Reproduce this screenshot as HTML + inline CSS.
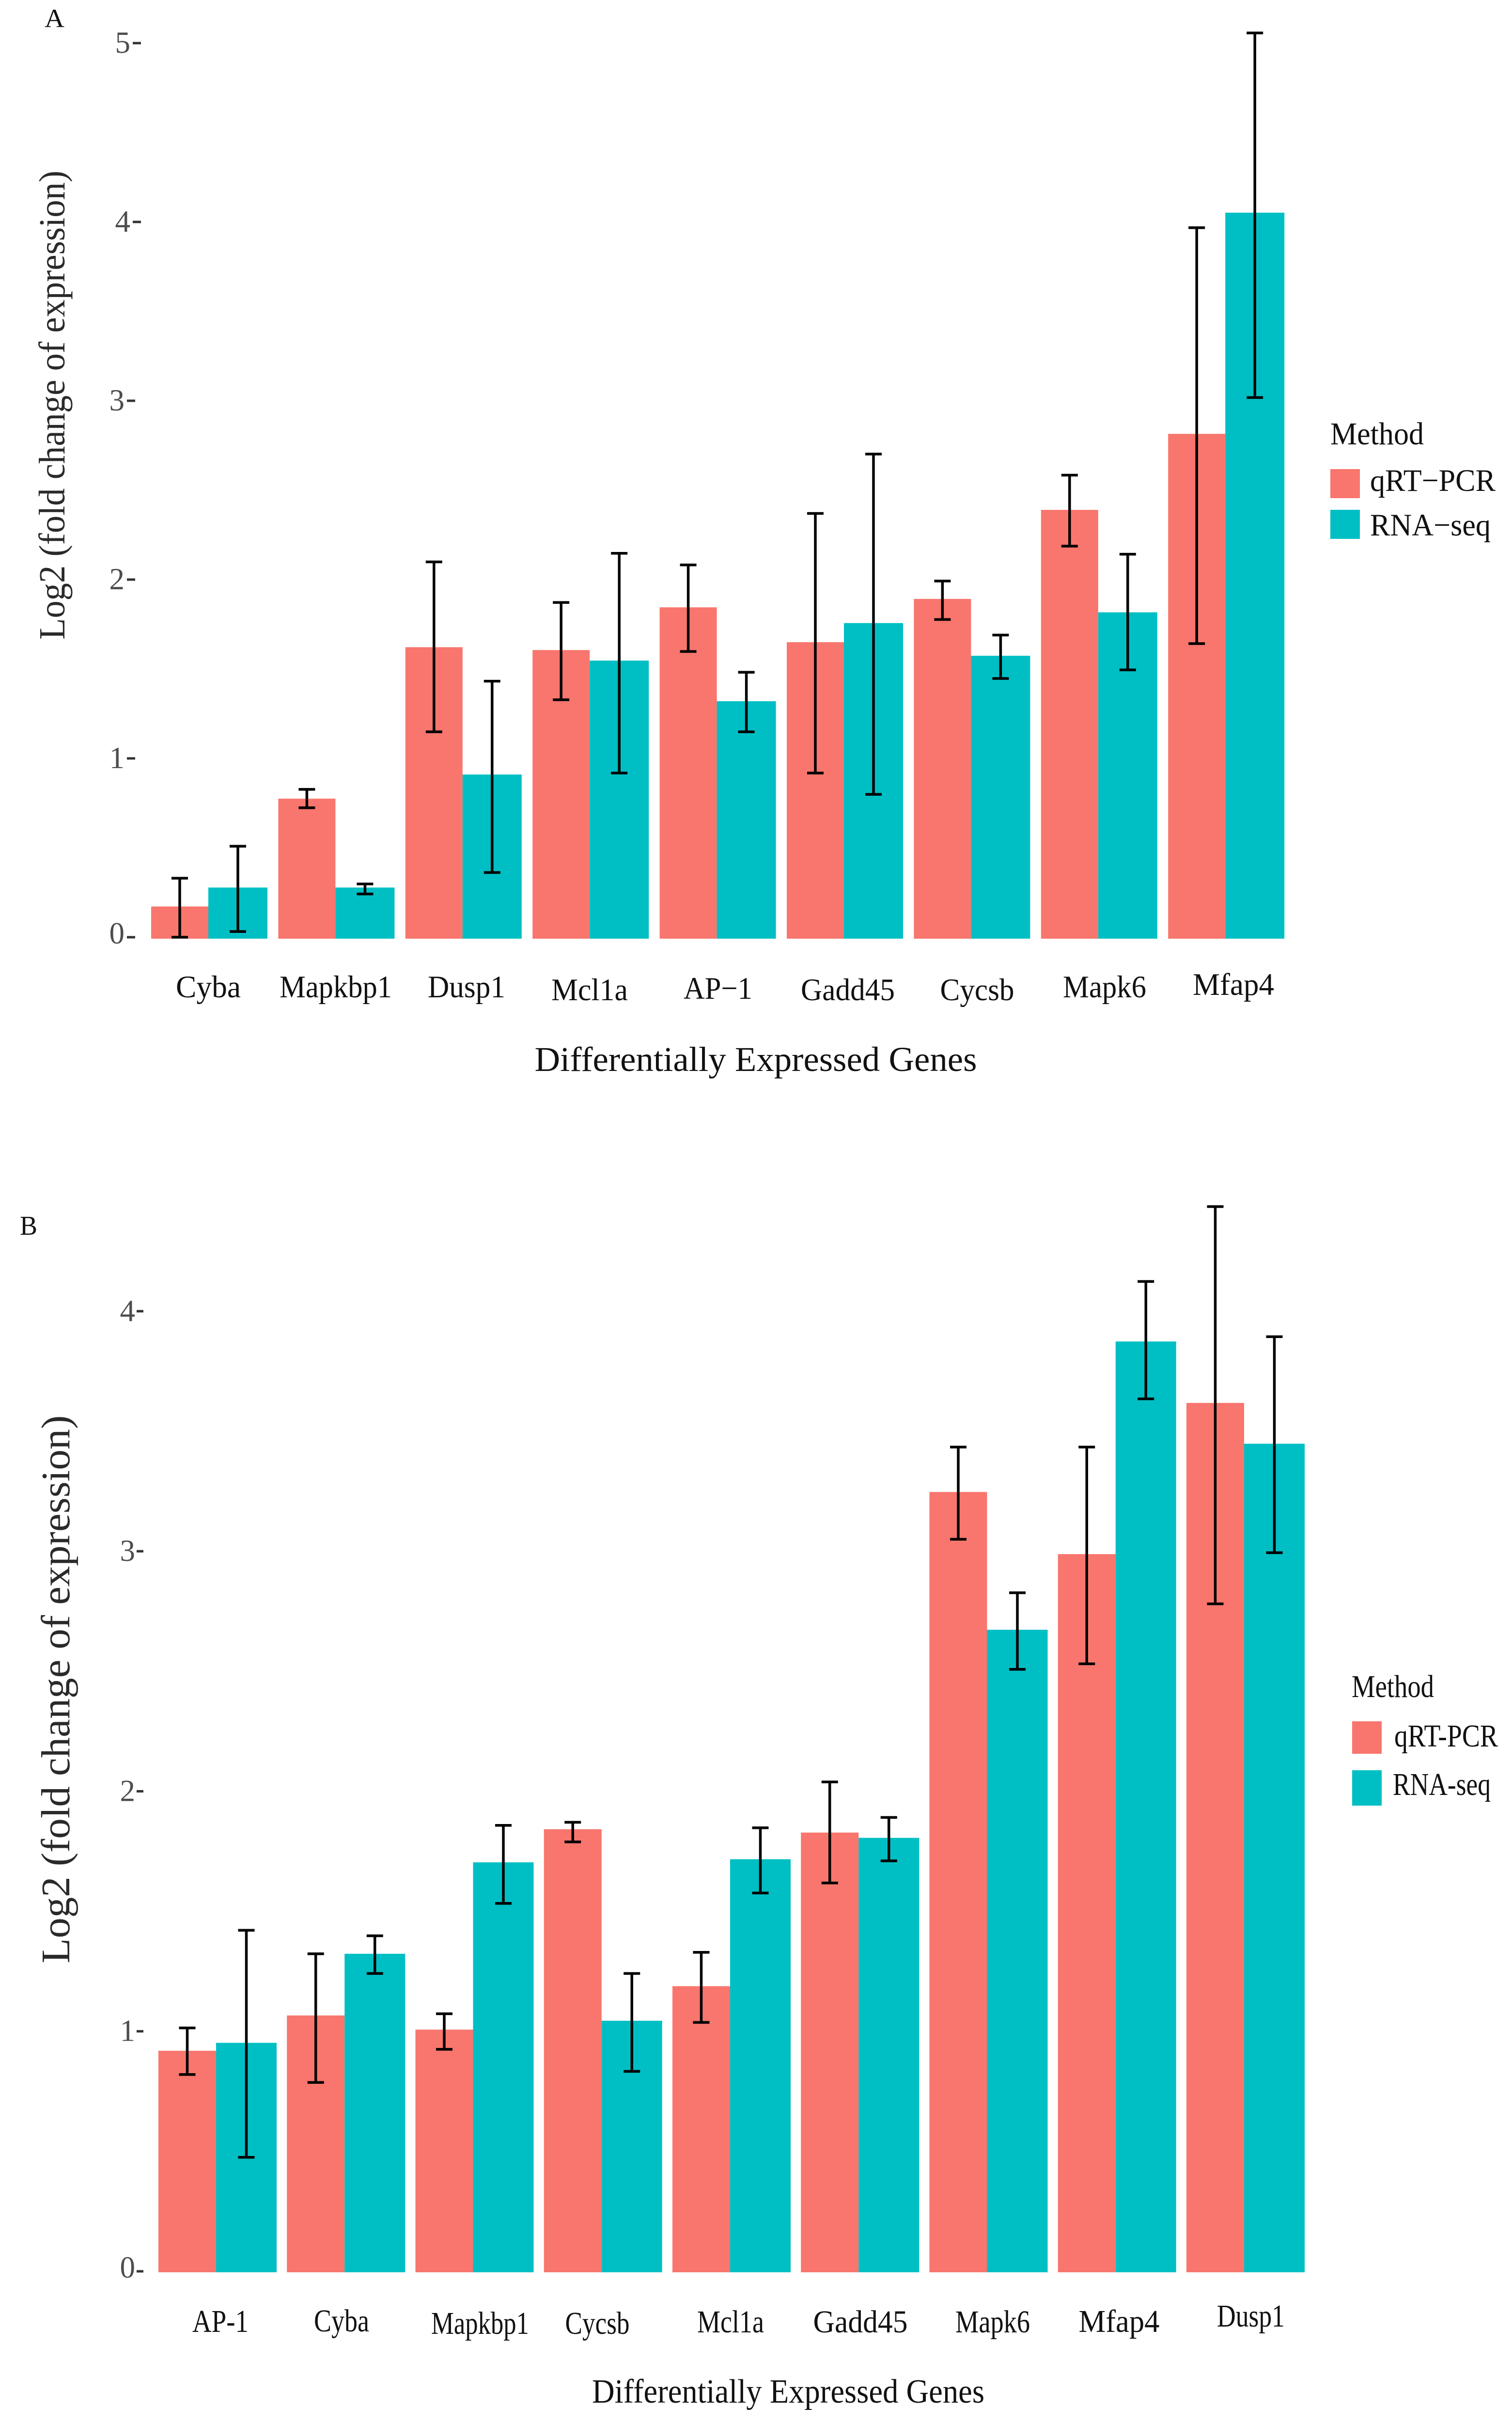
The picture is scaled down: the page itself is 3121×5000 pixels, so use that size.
<!DOCTYPE html>
<html lang="en">
<head>
<meta charset="utf-8">
<title>Differentially Expressed Genes: qRT-PCR vs RNA-seq</title>
<style>
html,body{margin:0;padding:0;background:#fff;}
svg{display:block;}
text{font-family:"Liberation Serif",serif;}
</style>
</head>
<body>
<svg id="figure" xmlns="http://www.w3.org/2000/svg" width="3121" height="5000" viewBox="0 0 3121 5000">
  <rect width="3121" height="5000" fill="#ffffff"/>

  <g id="panel-a">
    <text x="92" y="56" font-size="54" fill="#111" textLength="41" lengthAdjust="spacingAndGlyphs">A</text>
    <text transform="translate(133,836) rotate(-90)" text-anchor="middle" font-size="76" fill="#2a2a2a" textLength="968" lengthAdjust="spacingAndGlyphs">Log2 (fold change of expression)</text>
    <text x="1560" y="2210" text-anchor="middle" font-size="72" fill="#111" textLength="913" lengthAdjust="spacingAndGlyphs">Differentially Expressed Genes</text>

    <g font-size="65" fill="#111" text-anchor="middle" lengthAdjust="spacingAndGlyphs">
      <text x="430" y="2058" textLength="134" lengthAdjust="spacingAndGlyphs">Cyba</text>
      <text x="693" y="2058" textLength="232" lengthAdjust="spacingAndGlyphs">Mapkbp1</text>
      <text x="963" y="2058" textLength="160" lengthAdjust="spacingAndGlyphs">Dusp1</text>
      <text x="1217" y="2064" textLength="158" lengthAdjust="spacingAndGlyphs">Mcl1a</text>
      <text x="1482" y="2061" textLength="142" lengthAdjust="spacingAndGlyphs">AP−1</text>
      <text x="1750" y="2064" textLength="194" lengthAdjust="spacingAndGlyphs">Gadd45</text>
      <text x="2017" y="2064" textLength="153" lengthAdjust="spacingAndGlyphs">Cycsb</text>
      <text x="2280" y="2058" textLength="172" lengthAdjust="spacingAndGlyphs">Mapk6</text>
      <text x="2546" y="2053" textLength="168" lengthAdjust="spacingAndGlyphs">Mfap4</text>
    </g>

    <g>
      <text x="2746" y="917" font-size="66" fill="#111" textLength="193" lengthAdjust="spacingAndGlyphs">Method</text>
      <rect x="2746" y="968" width="61" height="60" fill="#F8766D"/>
      <text x="2828" y="1013" font-size="65" fill="#111" textLength="259" lengthAdjust="spacingAndGlyphs">qRT−PCR</text>
      <rect x="2746" y="1052" width="61" height="60" fill="#00BFC4"/>
      <text x="2828" y="1105" font-size="65" fill="#111" textLength="249" lengthAdjust="spacingAndGlyphs">RNA−seq</text>
    </g>
  </g>

  <g id="panel-b">
    <text x="41" y="2548" font-size="56" fill="#111" textLength="36" lengthAdjust="spacingAndGlyphs">B</text>
    <text transform="translate(143,3486) rotate(-90)" text-anchor="middle" font-size="84" fill="#2a2a2a" textLength="1131" lengthAdjust="spacingAndGlyphs">Log2 (fold change of expression)</text>
    <text x="1627" y="4958" text-anchor="middle" font-size="70" fill="#111" textLength="810" lengthAdjust="spacingAndGlyphs">Differentially Expressed Genes</text>

    <g font-size="66" fill="#111" text-anchor="middle">
      <text x="455" y="4812" textLength="116" lengthAdjust="spacingAndGlyphs">AP-1</text>
      <text x="705" y="4811" textLength="114" lengthAdjust="spacingAndGlyphs">Cyba</text>
      <text x="991" y="4816" textLength="202" lengthAdjust="spacingAndGlyphs">Mapkbp1</text>
      <text x="1233" y="4816" textLength="133" lengthAdjust="spacingAndGlyphs">Cycsb</text>
      <text x="1508" y="4813" textLength="138" lengthAdjust="spacingAndGlyphs">Mcl1a</text>
      <text x="1776" y="4813" textLength="195" lengthAdjust="spacingAndGlyphs">Gadd45</text>
      <text x="2049" y="4813" textLength="154" lengthAdjust="spacingAndGlyphs">Mapk6</text>
      <text x="2310" y="4812" textLength="167" lengthAdjust="spacingAndGlyphs">Mfap4</text>
      <text x="2582" y="4801" textLength="140" lengthAdjust="spacingAndGlyphs">Dusp1</text>
    </g>

    <g>
      <text x="2790" y="3502" font-size="66" fill="#111" textLength="170" lengthAdjust="spacingAndGlyphs">Method</text>
      <rect x="2791" y="3552" width="61" height="67" fill="#F8766D"/>
      <text x="2878" y="3604" font-size="66" fill="#111" textLength="214" lengthAdjust="spacingAndGlyphs">qRT-PCR</text>
      <rect x="2791" y="3653" width="61" height="73" fill="#00BFC4"/>
      <text x="2875" y="3704" font-size="66" fill="#111" textLength="202" lengthAdjust="spacingAndGlyphs">RNA-seq</text>
    </g>
  </g>
</svg>

<script>
// Panel A data
const categoriesA = ["Cyba","Mapkbp1","Dusp1","Mcl1a","AP-1","Gadd45","Cycsb","Mapk6","Mfap4"];
const qpcrA     = [0.18,0.783,1.63,1.614,1.853,1.658,1.90,2.398,2.823];
const qpcrLowA  = [0.008,0.732,1.157,1.336,1.606,0.926,1.785,2.195,1.65];
const qpcrHighA = [0.338,0.835,2.107,1.88,2.09,2.378,2.0,2.592,3.976];
const rnaA      = [0.286,0.286,0.918,1.555,1.328,1.765,1.582,1.825,4.06];
const rnaLowA   = [0.04,0.25,0.37,0.926,1.157,0.807,1.455,1.503,3.026];
const rnaHighA  = [0.517,0.306,1.44,2.155,1.49,2.71,1.698,2.15,5.065];
const tickValuesA = [0,1,2,3,4,5];
const tickLabelsA = ["0","1","2","3","4","5"];

// Panel B data
const categoriesB = ["AP-1","Cyba","Mapkbp1","Cycsb","Mcl1a","Gadd45","Mapk6","Mfap4","Dusp1"];
const qpcrB     = [0.923,1.07,1.011,1.846,1.192,1.832,3.251,2.992,3.622];
const qpcrLowB  = [0.824,0.791,0.929,1.793,1.041,1.622,3.054,2.535,2.785];
const qpcrHighB = [1.018,1.327,1.077,1.875,1.333,2.043,3.438,3.438,4.44];
const rnaB      = [0.956,1.327,1.708,1.048,1.721,1.81,2.677,3.878,3.452];
const rnaLowB   = [0.479,1.245,1.537,0.837,1.58,1.714,2.512,3.639,2.998];
const rnaHighB  = [1.425,1.402,1.862,1.245,1.852,1.895,2.831,4.128,3.898];
const tickValuesB = [0,1,2,3,4];
const tickLabelsB = ["0","1","2","3","4"];

const NS = "http://www.w3.org/2000/svg";
const RED = "#F8766D";
const TEAL = "#00BFC4";

function make(tag, attrs, parent) {
  const node = document.createElementNS(NS, tag);
  for (const k in attrs) node.setAttribute(k, attrs[k]);
  parent.appendChild(node);
  return node;
}

function drawErrorBar(parent, x, yLow, yHigh, capHalf, name) {
  const g = make("g", {stroke:"#000", "stroke-width":5.5, fill:"none"}, parent);
  
  
  make("line", {x1:x, x2:x, y1:yHigh, y2:yLow}, g);
  make("line", {x1:x-capHalf, x2:x+capHalf, y1:yHigh, y2:yHigh}, g);
  make("line", {x1:x-capHalf, x2:x+capHalf, y1:yLow, y2:yLow}, g);
}

function drawPanel(p) {
  const root = document.getElementById(p.id);
  const marks = make("g", {}, root);
  
  

  p.tickValues.forEach(function (v, i) {
    const y = p.yScale(v) - p.tickShift;
    const right = p.tickRight(v);
    const tick = make("line", {x1:right-p.tickLength, x2:right, y1:y, y2:y, stroke:"#333", "stroke-width":5}, root);
    
    
    const dy = v === 0 ? 13 : 20;
    const label = make("text", {x:right-p.tickGap, y:y+dy, "text-anchor":"end", "font-size":p.tickFont, fill:"#4d4d4d"}, root);
    
    
    label.textContent = p.tickLabels[i];
  });

  p.categories.forEach(function (cat, i) {
    const c = p.xScale(i);
    const y0 = p.yScale(0);
    const r = make("rect", {x:c-p.redWidth, width:p.redWidth, y:p.yScale(p.qpcr[i]), height:y0-p.yScale(p.qpcr[i]), fill:RED}, marks);
    
    
    const t = make("rect", {x:c, width:p.tealWidth, y:p.yScale(p.rna[i]), height:y0-p.yScale(p.rna[i]), fill:TEAL}, marks);
    
    
  });

  p.categories.forEach(function (cat, i) {
    const c = p.xScale(i);
    drawErrorBar(marks, c-p.redWidth/2, p.yScale(p.qpcrLow[i]), p.yScale(p.qpcrHigh[i]), 17, 'error-bar-qrt-pcr-' + cat);
    drawErrorBar(marks, c+p.tealWidth/2, p.yScale(p.rnaLow[i]), p.yScale(p.rnaHigh[i]), 17, 'error-bar-rna-seq-' + cat);
  });
}

drawPanel({
  id:"panel-a", key:"a",
  categories:categoriesA, qpcr:qpcrA, qpcrLow:qpcrLowA, qpcrHigh:qpcrHighA,
  rna:rnaA, rnaLow:rnaLowA, rnaHigh:rnaHighA,
  tickValues:tickValuesA, tickLabels:tickLabelsA,
  xScale:function(i){return 430 + i*262.4;},
  yScale:function(v){return 1937 - v*369;},
  tickRight:function(v){return v>=4 ? 291 : 279;},
  tickShift:3, tickLength:17, tickGap:22,
  redWidth:118, tealWidth:122, tickFont:63
});

drawPanel({
  id:"panel-b", key:"b",
  categories:categoriesB, qpcr:qpcrB, qpcrLow:qpcrLowB, qpcrHigh:qpcrHighB,
  rna:rnaB, rnaLow:rnaLowB, rnaHigh:rnaHighB,
  tickValues:tickValuesB, tickLabels:tickLabelsB,
  xScale:function(i){return 446 + i*265.25;},
  yScale:function(v){return 4689 - v*495.3;},
  tickRight:function(v){return 296;},
  tickShift:2, tickLength:14, tickGap:17,
  redWidth:119, tealWidth:125, tickFont:63
});
</script>
</body>
</html>
